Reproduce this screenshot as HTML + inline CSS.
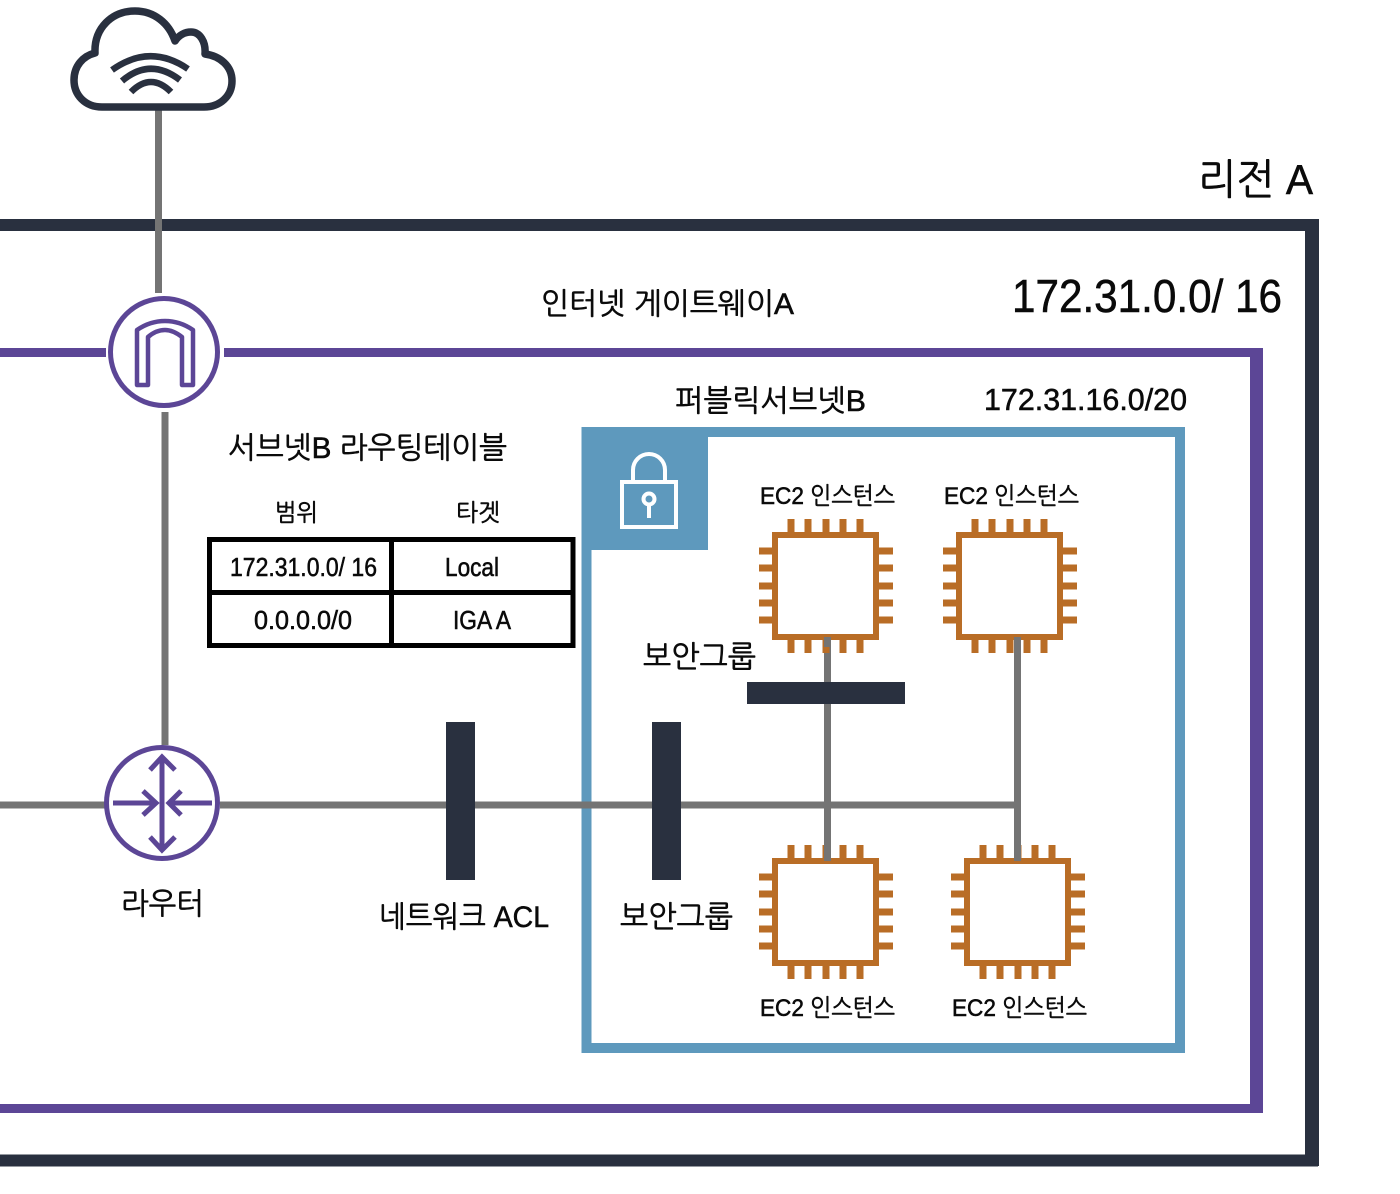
<!DOCTYPE html>
<html lang="ko"><head><meta charset="utf-8"><title>리전 A</title>
<style>
html,body{margin:0;padding:0;background:#fff}
svg{display:block}
text{font-family:"Liberation Sans","NanumGothic","Noto Sans CJK KR",sans-serif;fill:#0a0a0a;stroke:#0a0a0a;stroke-width:.55px}
</style></head><body>
<svg width="1400" height="1194" viewBox="0 0 1400 1194" xmlns="http://www.w3.org/2000/svg">
<defs>
<g id="chip" fill="#b96d26">
<path d="M-54 -54H53V54H-54ZM-48 -48V48H47V-48Z" fill-rule="evenodd"/>
<g id="pins">
<rect x="-38.500" y="-67" width="7" height="13"/><rect x="-21.500" y="-67" width="7" height="13"/><rect x="-3.500" y="-67" width="7" height="13"/><rect x="13.500" y="-67" width="7" height="13"/><rect x="30.500" y="-67" width="7" height="13"/>
<rect x="-38.500" y="54" width="7" height="13"/><rect x="-21.500" y="54" width="7" height="13"/><rect x="-3.500" y="54" width="7" height="13"/><rect x="13.500" y="54" width="7" height="13"/><rect x="30.500" y="54" width="7" height="13"/>
<rect x="-67" y="-38.500" width="13" height="7"/><rect x="-67" y="-21.500" width="13" height="7"/><rect x="-67" y="-3.500" width="13" height="7"/><rect x="-67" y="13.500" width="13" height="7"/><rect x="-67" y="30.500" width="13" height="7"/>
<rect x="53" y="-38.500" width="14" height="7"/><rect x="53" y="-21.500" width="14" height="7"/><rect x="53" y="-3.500" width="14" height="7"/><rect x="53" y="13.500" width="14" height="7"/><rect x="53" y="30.500" width="14" height="7"/>
</g>
</g>
</defs>

<!-- region -->
<path d="M0 225H1312V1160.500H0" fill="none" stroke="#29303f" stroke-width="12"/>
<rect x="1305" y="219" width="14" height="947" fill="#29303f"/>
<!-- vpc -->
<path d="M0 352.500H1256.500V1108.500H0" fill="none" stroke="#5c4696" stroke-width="9"/>
<rect x="1250" y="348" width="13" height="765" fill="#5c4696"/>
<rect x="106" y="340" width="118" height="25" fill="#fff"/>
<!-- subnet -->
<rect x="586.500" y="432" width="593.500" height="616" fill="none" stroke="#5e99bd" stroke-width="10"/>
<rect x="581.500" y="427" width="126.500" height="123" fill="#5e99bd"/>
<!-- lock -->
<g fill="none" stroke="#fff" stroke-width="4">
<rect x="622" y="482" width="54" height="45"/>
<path d="M633 481V470a16 16 0 0 1 32 0V481"/>
<circle cx="649" cy="499" r="5.500"/>
<path d="M649 505V518"/>
</g>

<!-- connectors -->
<g fill="#747474">
<rect x="155" y="110" width="7" height="183"/>
<rect x="161.500" y="412" width="7" height="333"/>
<rect x="0" y="801.500" width="105" height="7"/>
<rect x="220" y="801.500" width="801" height="7"/>
<rect x="824" y="637" width="7" height="224"/>
<rect x="1014" y="637" width="7" height="224"/>
</g>

<!-- chips -->
<use href="#chip" x="826" y="586"/>
<use href="#chip" x="1010" y="586"/>
<use href="#chip" x="826" y="912"/>
<use href="#chip" x="1018" y="912"/>
<rect x="824" y="637" width="7" height="10" fill="#747474"/>
<rect x="1014" y="637" width="7" height="10" fill="#747474"/>
<rect x="824" y="845" width="7" height="16" fill="#747474"/>
<rect x="1014" y="845" width="7" height="16" fill="#747474"/>

<!-- bars -->
<g fill="#29303f">
<rect x="446" y="722" width="29" height="158"/>
<rect x="652" y="722" width="29" height="158"/>
<rect x="747" y="682" width="158" height="22"/>
</g>

<!-- cloud -->
<path d="M102 107C85 107 74 95 74 80C74 66 83 56 95 53C94 28 112 11 135 11C154 11 169 23 175 41C179 35 185 32 191 32C200 32 206 42 205 54C220 56 232 66 232 81C232 96 220 107 204 107Z" fill="#fff" stroke="#29303f" stroke-width="7.500" stroke-linejoin="round"/>
<g fill="none" stroke="#29303f" stroke-width="6.500">
<path d="M112 70Q150 43 188 69"/>
<path d="M122 81Q150 57 180 80"/>
<path d="M131 92Q151 72 171 92"/>
</g>

<!-- internet gateway -->
<circle cx="164" cy="352" r="53.500" fill="#fff" stroke="#5c4696" stroke-width="5"/>
<path d="M137 385V330Q150 321 165 321Q180 321 193 330V385H182V337Q173 330 165 330Q156 330 148 337V385Z" fill="none" stroke="#5c4696" stroke-width="4.500" stroke-linejoin="round"/>

<!-- router -->
<circle cx="162" cy="803" r="55.500" fill="#fff" stroke="#5c4696" stroke-width="5"/>
<g fill="none" stroke="#5c4696" stroke-width="5">
<path d="M162 757V849"/>
<path d="M150 770L162 757L175 770"/>
<path d="M150 837L162 850L175 837"/>
<path d="M113 803H156"/>
<path d="M143 791L156 803L143 815"/>
<path d="M212 803H169"/>
<path d="M181 791L169 803L181 815"/>
</g>

<!-- table -->
<g fill="none" stroke="#000" stroke-width="5">
<rect x="209.500" y="539.500" width="363.500" height="106"/>
<path d="M391.500 539V646"/>
<path d="M209 592.500H573"/>
</g>

<!-- labels -->
<text x="1198" y="194" font-size="42" textLength="115" lengthAdjust="spacingAndGlyphs">리전 A</text>
<text x="1012" y="312" font-size="46" textLength="270" lengthAdjust="spacingAndGlyphs">172.31.0.0/ 16</text>
<text x="541" y="314" font-size="30" textLength="253" lengthAdjust="spacingAndGlyphs">인터넷 게이트웨이A</text>
<text x="675" y="411" font-size="30" textLength="191" lengthAdjust="spacingAndGlyphs">퍼블릭서브넷B</text>
<text x="984" y="410" font-size="31" textLength="203" lengthAdjust="spacingAndGlyphs">172.31.16.0/20</text>
<text x="228" y="458" font-size="30" textLength="279" lengthAdjust="spacingAndGlyphs">서브넷B 라우팅테이블</text>
<text x="275" y="521" font-size="24" textLength="43" lengthAdjust="spacingAndGlyphs">범위</text>
<text x="456" y="521" font-size="24" textLength="44" lengthAdjust="spacingAndGlyphs">타겟</text>
<text x="230" y="576" font-size="26" textLength="147" lengthAdjust="spacingAndGlyphs">172.31.0.0/ 16</text>
<text x="445" y="576" font-size="26" textLength="54" lengthAdjust="spacingAndGlyphs">Local</text>
<text x="254" y="629" font-size="26" textLength="98" lengthAdjust="spacingAndGlyphs">0.0.0.0/0</text>
<text x="453" y="629" font-size="26" textLength="58" lengthAdjust="spacingAndGlyphs">IGA A</text>
<text x="760" y="504" font-size="24" textLength="135" lengthAdjust="spacingAndGlyphs">EC2 인스턴스</text>
<text x="944" y="504" font-size="24" textLength="135" lengthAdjust="spacingAndGlyphs">EC2 인스턴스</text>
<text x="760" y="1016" font-size="24" textLength="135" lengthAdjust="spacingAndGlyphs">EC2 인스턴스</text>
<text x="952" y="1016" font-size="24" textLength="135" lengthAdjust="spacingAndGlyphs">EC2 인스턴스</text>
<text x="643" y="667" font-size="30" textLength="113" lengthAdjust="spacingAndGlyphs">보안그룹</text>
<text x="620" y="927" font-size="30" textLength="113" lengthAdjust="spacingAndGlyphs">보안그룹</text>
<text x="379" y="927" font-size="30" textLength="170" lengthAdjust="spacingAndGlyphs">네트워크 ACL</text>
<text x="121" y="914" font-size="30" textLength="83" lengthAdjust="spacingAndGlyphs">라우터</text>
</svg>
</body></html>
